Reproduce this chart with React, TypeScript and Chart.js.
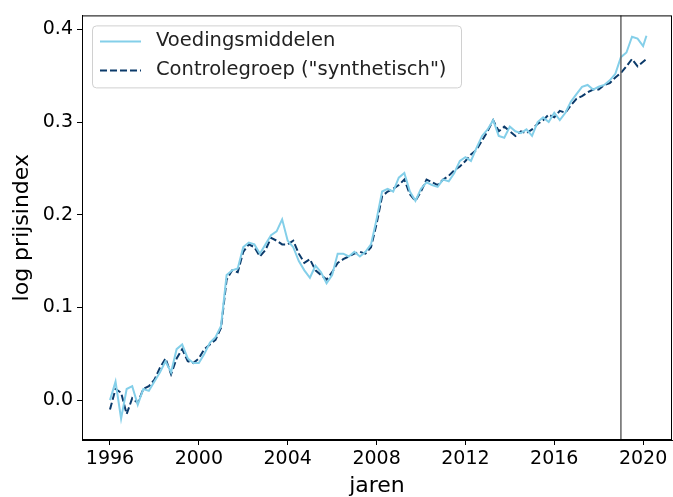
import React, { useEffect, useRef } from "react";
import { Chart, registerables } from "chart.js";

Chart.register(...registerables);

// quarterly observations 1996.00 ... 2020.00, plus a final point early 2020
const START_YEAR = 1996;
const LAST_YEAR = 2020.15;

const voedingsmiddelen = [
  0.0, 0.02, -0.02, 0.012, 0.015, -0.005, 0.012, 0.01,
  0.02, 0.03, 0.042, 0.03, 0.055, 0.06, 0.045, 0.04,
  0.04, 0.05, 0.062, 0.068, 0.08, 0.135, 0.14, 0.142,
  0.165, 0.17, 0.168, 0.158, 0.168, 0.178, 0.182, 0.195,
  0.172, 0.165, 0.15, 0.14, 0.132, 0.145, 0.138, 0.126,
  0.135, 0.158, 0.158, 0.155, 0.16, 0.155, 0.16, 0.168,
  0.195, 0.225, 0.228, 0.225, 0.24, 0.245, 0.225, 0.215,
  0.228, 0.235, 0.232, 0.23, 0.238, 0.236, 0.245, 0.258,
  0.262, 0.258, 0.272, 0.285, 0.292, 0.302, 0.285, 0.283,
  0.295, 0.29, 0.288, 0.292, 0.285, 0.3, 0.305, 0.3,
  0.31, 0.302, 0.31, 0.322, 0.33, 0.338, 0.34, 0.335,
  0.338, 0.34, 0.345, 0.352, 0.37, 0.375, 0.392, 0.39,
  0.382, 0.393,
];

const controlegroep = [
  -0.01, 0.012, 0.008, -0.015, 0.002, -0.003, 0.012, 0.015,
  0.022, 0.035, 0.045, 0.028, 0.045, 0.055, 0.042, 0.04,
  0.045, 0.055, 0.06, 0.065, 0.078, 0.13, 0.14, 0.138,
  0.16, 0.168, 0.165, 0.155, 0.162, 0.175, 0.172, 0.168,
  0.168, 0.172, 0.158, 0.148, 0.152, 0.14, 0.135, 0.13,
  0.138, 0.148, 0.152, 0.155, 0.158, 0.16, 0.158, 0.165,
  0.19, 0.22, 0.225, 0.228, 0.232, 0.238, 0.222, 0.215,
  0.225, 0.238, 0.235, 0.232, 0.238, 0.242, 0.248, 0.252,
  0.258, 0.265, 0.27, 0.28, 0.29, 0.302, 0.29, 0.295,
  0.29, 0.285, 0.29, 0.288, 0.292, 0.298, 0.302, 0.308,
  0.305, 0.312, 0.31, 0.318, 0.325, 0.328, 0.332, 0.335,
  0.335, 0.34, 0.342, 0.348, 0.353, 0.36, 0.368, 0.36,
  0.365, 0.368,
];

const xTicks = [1996, 2000, 2004, 2008, 2012, 2016, 2020];
const yTicks = [0.0, 0.1, 0.2, 0.3, 0.4];
const treatmentYear = 2019;
const labels = ["Voedingsmiddelen", 'Controlegroep ("synthetisch")'];

const years = voedingsmiddelen.map((_, i) =>
  i < voedingsmiddelen.length - 1 ? START_YEAR + i / 4 : LAST_YEAR
);

const LIGHT = "#84cfe9";
const DARK = "#0b3a6a";
const DASH = [7, 3];
const FONT = "'DejaVu Sans', sans-serif";
const TICK_SIZE = 19;
const TITLE_SIZE = 22;
const LEGEND_SIZE = 19.5;

export default function App() {
  const ref = useRef<HTMLCanvasElement>(null);
  useEffect(() => {
    const ctx = ref.current!.getContext("2d")!;
    const framePlugin = {
      id: "frame",
      afterDatasetsDraw(chart: any) {
        const { ctx, chartArea: a, scales } = chart;
        ctx.save();
        const vx = scales.x.getPixelForValue(treatmentYear);
        ctx.strokeStyle = "#666666";
        ctx.lineWidth = 1.5;
        ctx.beginPath();
        ctx.moveTo(vx, a.top);
        ctx.lineTo(vx, a.bottom);
        ctx.stroke();
        ctx.strokeStyle = "#000";
        ctx.lineWidth = 1;
        ctx.strokeRect(a.left + 0.5, a.top + 0.5, a.right - a.left - 1, a.bottom - a.top - 1);
        // legend
        const lx = a.left + 10, ly = a.top + 10, lw = 369, lh = 62;
        ctx.fillStyle = "rgba(255,255,255,0.8)";
        ctx.strokeStyle = "#d0d0d0";
        ctx.lineWidth = 1;
        ctx.beginPath();
        (ctx as any).roundRect(lx + 0.5, ly + 0.5, lw, lh, 4);
        ctx.fill();
        ctx.stroke();
        const rows = [ly + 16, ly + 45];
        ctx.lineWidth = 2;
        ctx.strokeStyle = LIGHT;
        ctx.setLineDash([]);
        ctx.beginPath();
        ctx.moveTo(lx + 8, rows[0]);
        ctx.lineTo(lx + 49, rows[0]);
        ctx.stroke();
        ctx.strokeStyle = DARK;
        ctx.setLineDash(DASH);
        ctx.beginPath();
        ctx.moveTo(lx + 8, rows[1]);
        ctx.lineTo(lx + 49, rows[1]);
        ctx.stroke();
        ctx.setLineDash([]);
        ctx.fillStyle = "#222";
        ctx.font = `${LEGEND_SIZE}px ${FONT}`;
        ctx.textBaseline = "middle";
        ctx.fillText(labels[0], lx + 64, rows[0]);
        ctx.fillText(labels[1], lx + 64, rows[1]);
        ctx.restore();
      },
    };
    const chart = new Chart(ctx, {
      type: "line",
      data: {
        datasets: [
          {
            label: labels[0],
            data: years.map((x, i) => ({ x, y: voedingsmiddelen[i] })),
            borderColor: LIGHT,
            borderWidth: 2,
            pointRadius: 0,
            tension: 0,
          },
          {
            label: labels[1],
            data: years.map((x, i) => ({ x, y: controlegroep[i] })),
            borderColor: DARK,
            borderWidth: 2,
            borderDash: DASH,
            pointRadius: 0,
            tension: 0,
          },
        ],
      },
      options: {
        animation: false,
        responsive: false,
        layout: { padding: { top: 14, right: 1, left: 0, bottom: 0 } },
        plugins: { legend: { display: false }, tooltip: { enabled: false } },
        scales: {
          x: {
            type: "linear",
            min: 1994.74,
            max: 2021.3,
            afterBuildTicks: (s: any) => {
              s.ticks = xTicks.map((v) => ({ value: v }));
            },
            afterFit: (s: any) => {
              s.height = 57;
            },
            ticks: {
              color: "#000",
              font: { family: FONT, size: TICK_SIZE },
              padding: 3,
              maxRotation: 0,
              callback: (v: any) => String(v),
            },
            grid: { drawOnChartArea: false, drawTicks: true, tickLength: 5, color: "#000" },
            border: { display: true, color: "#000" },
            title: {
              display: true,
              text: "jaren",
              color: "#000",
              font: { family: FONT, size: TITLE_SIZE, lineHeight: 1.0 },
              padding: { top: 0, bottom: 0 },
            },
          },
          y: {
            type: "linear",
            min: -0.043,
            max: 0.415,
            afterBuildTicks: (s: any) => {
              s.ticks = yTicks.map((v) => ({ value: v }));
            },
            afterFit: (s: any) => {
              s.width = 82;
            },
            ticks: {
              color: "#000",
              font: { family: FONT, size: TICK_SIZE },
              padding: 4,
              callback: (v: any) => Number(v).toFixed(1),
            },
            grid: { drawOnChartArea: false, drawTicks: true, tickLength: 5, color: "#000" },
            border: { display: true, color: "#000" },
            title: {
              display: true,
              text: "log prijsindex",
              color: "#000",
              font: { family: FONT, size: TITLE_SIZE, lineHeight: 1.0 },
              padding: { top: 11, bottom: 0 },
            },
          },
        },
      },
      plugins: [framePlugin],
    });
    return () => chart.destroy();
  }, []);
  return (
    <div style={{ position: "fixed", left: 0, top: 0, width: 673, height: 497, background: "#fff" }}>
      <canvas ref={ref} width={673} height={497} style={{ display: "block" }} />
    </div>
  );
}
